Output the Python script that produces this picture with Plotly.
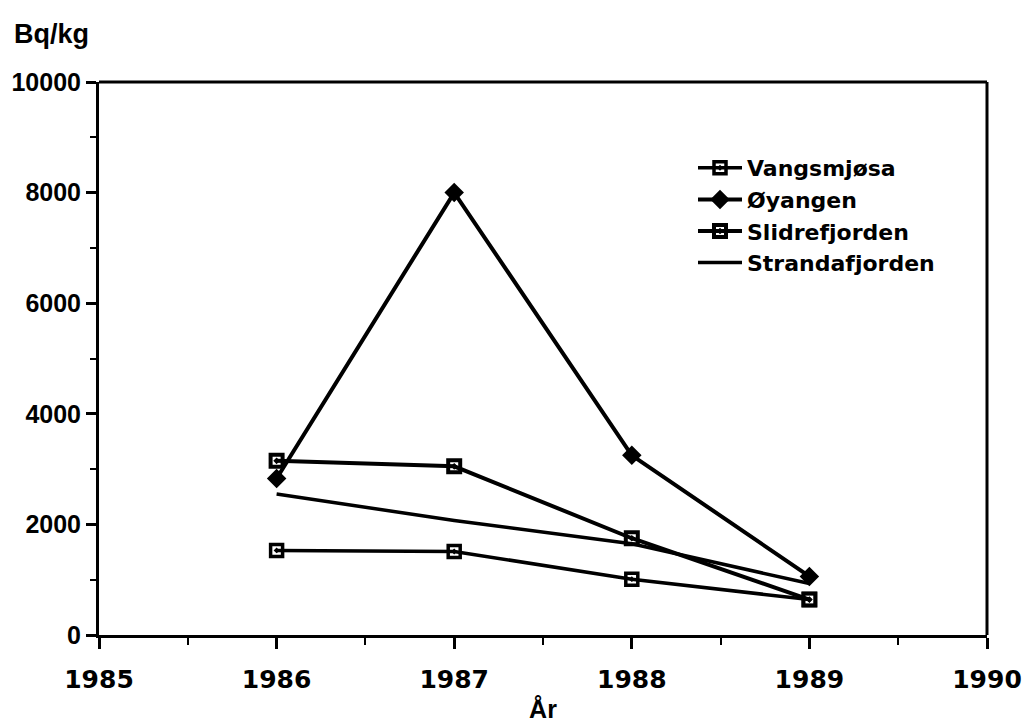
import plotly.graph_objects as go

years = [1986, 1987, 1988, 1989]
vangsmjosa = [1530, 1510, 1010, 640]
oyangen = [2830, 8000, 3250, 1060]
slidrefjorden = [3150, 3050, 1750, 640]
strandafjorden = [2550, 2070, 1650, 930]

x_ticks = [1985, 1986, 1987, 1988, 1989, 1990]
y_ticks = [0, 2000, 4000, 6000, 8000, 10000]
x_minor = [1985.5, 1986.5, 1987.5, 1988.5, 1989.5]
y_minor = [1000, 3000, 5000, 7000, 9000]

SANS = "Liberation Sans, Arial, Helvetica, sans-serif"
WIDE = "DejaVu Sans, Verdana, sans-serif"

L, R, T, B = 99, 38, 82, 91
W, H = 1025, 726
PW, PH = W - L - R, H - T - B

fig = go.Figure()
fig.add_trace(go.Scatter(x=years, y=vangsmjosa, name="Vangsmjøsa", mode="lines+markers",
                         line=dict(color="black", width=3.5),
                         marker=dict(symbol="square-open-dot", size=12, color="black", line=dict(width=3.5))))
fig.add_trace(go.Scatter(x=years, y=oyangen, name="Øyangen", mode="lines+markers",
                         line=dict(color="black", width=4),
                         marker=dict(symbol="diamond", size=15, color="black")))
fig.add_trace(go.Scatter(x=years, y=slidrefjorden, name="Slidrefjorden", mode="lines+markers",
                         line=dict(color="black", width=4),
                         marker=dict(symbol="square-open-dot", size=12, color="black", line=dict(width=4))))
fig.add_trace(go.Scatter(x=years, y=strandafjorden, name="Strandafjorden", mode="lines",
                         line=dict(color="black", width=3.5)))

fig.update_layout(
    width=W, height=H,
    paper_bgcolor="white", plot_bgcolor="white",
    margin=dict(l=L, r=R, t=T, b=B, autoexpand=False),
    font=dict(family=SANS, size=18, color="black"),
    showlegend=True,
    legend=dict(x=(693 - L) / PW, y=1 - (147 - T) / PH, xanchor="left", yanchor="top",
                font=dict(family=WIDE, size=22, color="black", weight="bold"),
                bgcolor="rgba(0,0,0,0)", itemwidth=44, tracegroupgap=0),
    annotations=[
        dict(text="<b>Bq/kg</b>", x=-(L - 12) / PW, y=1 + (T - 34) / PH, xref="paper", yref="paper",
             showarrow=False, font=dict(family=SANS, size=27), xanchor="left", yanchor="middle"),
    ],
)

fig.update_xaxes(
    range=[1985, 1990], tickvals=x_ticks, ticktext=[str(v) for v in x_ticks],
    showgrid=False, zeroline=False, showline=True, linecolor="black", linewidth=3,
    ticks="outside", ticklen=11, tickwidth=3, tickcolor="black", ticklabeloverflow="allow",
    ticklabelstandoff=9,
    minor=dict(tickvals=x_minor, ticks="outside", ticklen=7, tickwidth=2, tickcolor="black"),
    tickfont=dict(family=WIDE, size=25, weight="bold"),
    title=dict(text="År", font=dict(family=SANS, size=25, weight="bold"), standoff=8),
    automargin=False,
)
fig.update_yaxes(
    range=[0, 10000], tickvals=y_ticks, ticktext=[str(v) for v in y_ticks],
    showgrid=False, zeroline=False, showline=True, linecolor="black", linewidth=3,
    ticks="outside", ticklen=10, tickwidth=3, tickcolor="black",
    minor=dict(tickvals=y_minor, ticks="outside", ticklen=6, tickwidth=2, tickcolor="black"),
    tickfont=dict(family=SANS, size=25, weight="bold"),
    automargin=False,
)
fig.add_shape(type="line", xref="paper", yref="paper", x0=0, x1=1, y0=1, y1=1, line=dict(color="black", width=3))
fig.add_shape(type="line", xref="paper", yref="paper", x0=1, x1=1, y0=0, y1=1, line=dict(color="black", width=3))

fig.write_html("out.html", config={"displayModeBar": False},
               post_script="document.body.style.margin='0';")
